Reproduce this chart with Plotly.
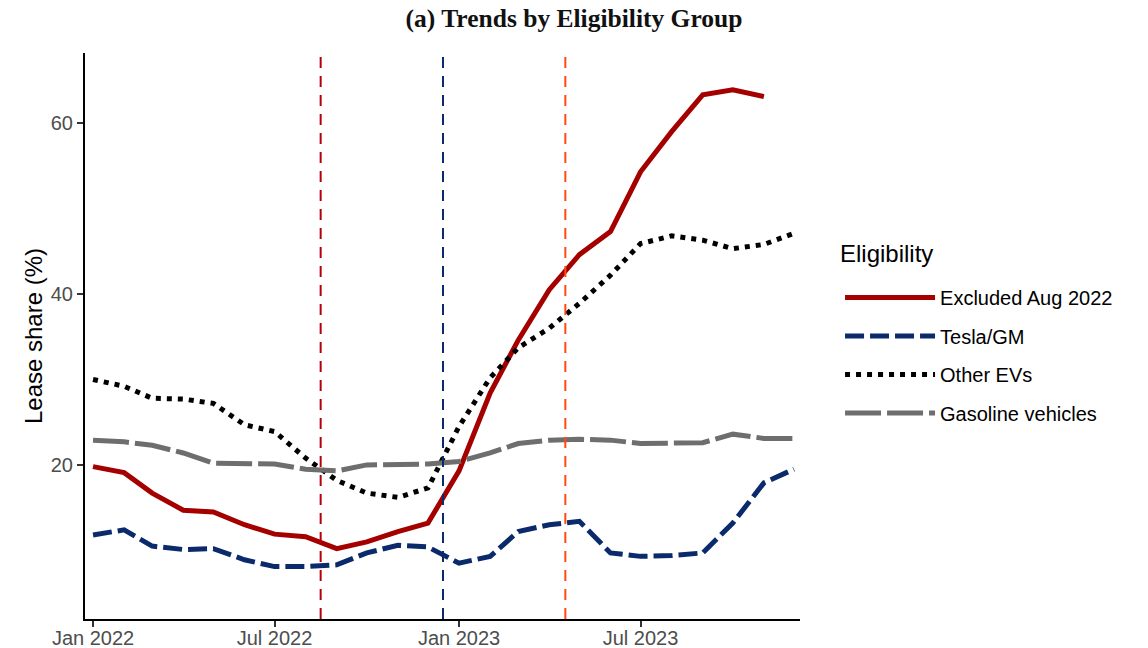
import plotly.graph_objects as go

months = ["2022-01-01", "2022-02-01", "2022-03-01", "2022-04-01", "2022-05-01", "2022-06-01",
          "2022-07-01", "2022-08-01", "2022-09-01", "2022-10-01", "2022-11-01", "2022-12-01",
          "2023-01-01", "2023-02-01", "2023-03-01", "2023-04-01", "2023-05-01", "2023-06-01",
          "2023-07-01", "2023-08-01", "2023-09-01", "2023-10-01", "2023-11-01", "2023-12-01"]

excluded = [19.8, 19.1, 16.7, 14.7, 14.5, 13.0, 11.9, 11.6, 10.2, 11.0, 12.2, 13.2,
            19.3, 28.4, 34.6, 40.5, 44.6, 47.3, 54.3, 59.0, 63.3, 63.9, 63.1, None]
tesla_gm = [11.8, 12.4, 10.5, 10.1, 10.2, 8.9, 8.1, 8.1, 8.3, 9.7, 10.6, 10.4,
            8.5, 9.3, 12.2, 13.0, 13.4, 9.7, 9.3, 9.4, 9.7, 13.2, 17.9, 19.5]
other_evs = [30.0, 29.2, 27.8, 27.7, 27.2, 24.7, 23.9, 20.8, 18.2, 16.7, 16.2, 17.3,
             24.5, 30.2, 33.7, 36.0, 38.9, 42.2, 45.9, 46.8, 46.3, 45.3, 45.8, 47.1]
gasoline = [22.9, 22.7, 22.3, 21.4, 20.2, 20.1, 20.1, 19.5, 19.3, 20.0, 20.1, 20.1,
            20.4, 21.4, 22.5, 22.9, 23.0, 22.9, 22.5, 22.5, 22.6, 23.6, 23.1, 23.1]

series_names = ["Excluded Aug 2022", "Tesla/GM", "Other EVs", "Gasoline vehicles"]
series_values = [excluded, tesla_gm, other_evs, gasoline]
series_colors = ["#A50000", "#0B2A6B", "#000000", "#6E6E6E"]
series_dash = ["solid", "19px,6px", "5px,6px", "36px,6px"]

event_dates = ["2022-08-16", "2022-12-16", "2023-04-17"]
event_colors = ["#B5000A", "#0B2A6B", "#FF4A10"]

tick_vals = ["2022-01-01", "2022-07-01", "2023-01-01", "2023-07-01"]
tick_text = ["Jan 2022", "Jul 2022", "Jan 2023", "Jul 2023"]

fig = go.Figure()
for i, (name, vals, col, dash) in enumerate(zip(series_names, series_values, series_colors, series_dash)):
    fig.add_trace(go.Scatter(
        x=months, y=vals, mode="lines", name=name,
        line=dict(color=col, width=5, dash=dash),
        legendgroup=f"g{i}", connectgaps=False,
    ))

for d, c in zip(event_dates, event_colors):
    fig.add_shape(type="line", xref="x", yref="paper", x0=d, x1=d, y0=0, y1=1,
                  line=dict(color=c, width=2, dash="11px,8px"))

fig.add_annotation(text="Eligibility", xref="paper", yref="paper",
                   x=1.0531, y=0.6449, xanchor="left", yanchor="middle",
                   showarrow=False, font=dict(size=24, color="black"))

fig.update_layout(
    width=1148, height=648,
    paper_bgcolor="white", plot_bgcolor="white",
    margin=dict(l=85, r=348, t=53, b=29),
    font=dict(family="Liberation Sans, Arial, sans-serif", color="black"),
    title=dict(text="<b>(a) Trends by Eligibility Group</b>",
               font=dict(family="Liberation Serif, Times New Roman, serif", size=25.5, color="#111111"),
               x=0.5, xanchor="center", y=1 - 18 / 648, yanchor="middle", xref="container"),
    showlegend=True,
    legend=dict(
        font=dict(size=20, color="black"),
        x=1.056, xanchor="left", y=0.6025, yanchor="top",
        tracegroupgap=9.5, itemwidth=90,
        bgcolor="rgba(0,0,0,0)",
    ),
    xaxis=dict(
        type="date", range=["2021-12-24", "2023-12-07"],
        tickvals=tick_vals, ticktext=tick_text,
        showgrid=False, zeroline=False, automargin=False,
        showline=True, linecolor="black", linewidth=2,
        ticks="outside", ticklen=6, tickwidth=2, tickcolor="#333333",
        ticklabelstandoff=-6,
        tickfont=dict(size=20, color="#4D4D4D"),
    ),
    yaxis=dict(
        range=[1.97, 68.2],
        tickvals=[20, 40, 60],
        showgrid=False, zeroline=False, automargin=False,
        showline=True, linecolor="black", linewidth=2,
        ticks="outside", ticklen=6, tickwidth=2, tickcolor="#333333",
        tickfont=dict(size=20, color="#4D4D4D"),
        title=dict(text="Lease share (%)", font=dict(size=24, color="black"), standoff=1),
    ),
)

fig.write_html("out.html", config={"displayModeBar": False},
               post_script="document.body.style.margin='0px';document.body.style.overflow='hidden';")
